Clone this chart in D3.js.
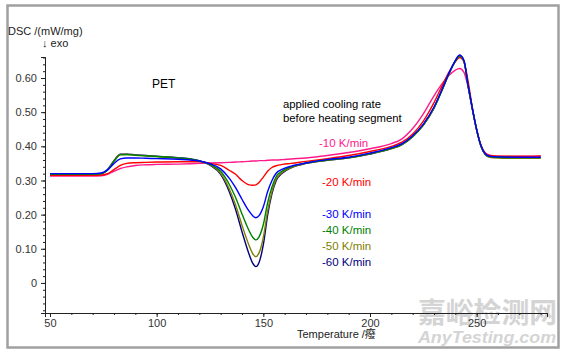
<!DOCTYPE html>
<html><head><meta charset="utf-8">
<script src="https://cdn.jsdelivr.net/npm/d3@7"></script>
<style>
html,body{margin:0;padding:0;background:#fff;}
svg{display:block;}
text{font-family:"Liberation Sans",Arial,"Noto Sans CJK SC",sans-serif;}
</style></head>
<body>
<svg id="chart" width="569" height="358"></svg>
<script>
// ---- data ----
const temperature = [50,60,70,74,77,80,83,86,90,95,100,110,120,125,130,134,137,140,143,145,146.5,148,150,152,154,156,159,163,170,180,190,200,210,215,220,225,230,234,237,240,242,244,246,248,250,252,254,256,260,270,280];
const rate10 = [0.313,0.313,0.313,0.314,0.318,0.327,0.335,0.340,0.344,0.346,0.347,0.348,0.350,0.351,0.352,0.353,0.354,0.355,0.356,0.357,0.357,0.358,0.358,0.359,0.360,0.360,0.361,0.363,0.366,0.373,0.382,0.393,0.408,0.422,0.452,0.495,0.548,0.585,0.607,0.623,0.628,0.617,0.573,0.508,0.447,0.404,0.381,0.374,0.371,0.370,0.371];
const rate20 = [0.315,0.315,0.315,0.316,0.320,0.332,0.344,0.350,0.352,0.353,0.354,0.355,0.355,0.350,0.344,0.330,0.318,0.300,0.288,0.286,0.287,0.294,0.310,0.327,0.338,0.343,0.347,0.350,0.356,0.364,0.373,0.385,0.400,0.412,0.436,0.474,0.528,0.580,0.617,0.648,0.660,0.648,0.590,0.512,0.448,0.403,0.379,0.373,0.371,0.371,0.372];
const rate30 = [0.320,0.320,0.320,0.322,0.331,0.350,0.363,0.366,0.366,0.365,0.364,0.362,0.357,0.349,0.334,0.307,0.279,0.245,0.213,0.197,0.191,0.197,0.223,0.267,0.299,0.321,0.333,0.342,0.351,0.361,0.368,0.380,0.396,0.408,0.431,0.465,0.515,0.570,0.614,0.651,0.667,0.652,0.578,0.510,0.449,0.402,0.378,0.371,0.369,0.368,0.368];
const rate40 = [0.318,0.318,0.318,0.320,0.331,0.356,0.375,0.376,0.374,0.372,0.370,0.366,0.357,0.347,0.327,0.289,0.250,0.202,0.157,0.134,0.126,0.135,0.171,0.234,0.280,0.311,0.328,0.340,0.351,0.360,0.367,0.379,0.394,0.406,0.429,0.463,0.513,0.568,0.612,0.649,0.664,0.650,0.577,0.510,0.449,0.401,0.377,0.370,0.368,0.367,0.367];
const rate50 = [0.318,0.318,0.318,0.320,0.331,0.357,0.376,0.376,0.374,0.372,0.370,0.366,0.357,0.346,0.321,0.276,0.228,0.169,0.115,0.086,0.077,0.088,0.133,0.210,0.266,0.304,0.324,0.338,0.350,0.359,0.366,0.378,0.393,0.405,0.428,0.462,0.512,0.568,0.612,0.650,0.665,0.650,0.576,0.509,0.448,0.400,0.376,0.368,0.366,0.365,0.365];
const rate60 = [0.318,0.318,0.318,0.320,0.332,0.358,0.377,0.377,0.375,0.373,0.371,0.367,0.358,0.345,0.318,0.268,0.215,0.150,0.090,0.058,0.048,0.060,0.112,0.198,0.260,0.299,0.322,0.337,0.350,0.359,0.366,0.377,0.393,0.405,0.428,0.462,0.512,0.568,0.613,0.651,0.667,0.651,0.577,0.510,0.449,0.401,0.377,0.370,0.368,0.367,0.367];
const seriesNames = ["-10 K/min","-20 K/min","-30 K/min","-40 K/min","-50 K/min","-60 K/min"];
const seriesColors = ["#ff1a8c","#ff0000","#0000ff","#008000","#808000","#000080"];
const seriesValues = [rate10, rate20, rate30, rate40, rate50, rate60];
const yTickValues = [0,0.1,0.2,0.3,0.4,0.5,0.6];
const yTickLabels = ["0","0.10","0.20","0.30","0.40","0.50","0.60"];
const xTickValues = [50,100,150,200,250];

// ---- chart ----
const svg = d3.select("#chart");
const x = d3.scaleLinear().domain([47.66, 282.97]).range([45, 547]);
const y = d3.scaleLinear().domain([-0.088, 0.6615]).range([313, 57]);

// frame
svg.append("rect").attr("x",7.5).attr("y",5.5).attr("width",551).attr("height",342)
  .attr("fill","none").attr("stroke","#a0a0a0").attr("stroke-width",2.5);

// watermark
svg.append("text").attr("x",418).attr("y",323).attr("font-size",28)
  .attr("font-family","'Noto Sans CJK SC',sans-serif").attr("font-weight","bold")
  .attr("fill","#d4d4d4").attr("textLength",139).attr("lengthAdjust","spacingAndGlyphs")
  .text("嘉峪检测网");
svg.append("text").attr("x",418).attr("y",343).attr("font-size",16)
  .attr("font-family","'DejaVu Sans',sans-serif").attr("font-weight","bold").attr("font-style","italic")
  .attr("fill","#d4d4d4").attr("textLength",138).attr("lengthAdjust","spacingAndGlyphs")
  .text("AnyTesting.com");

// axes
const axisColor = "#222";
const yMinor = svg.append("g").attr("transform","translate(45,0)")
  .call(d3.axisLeft(y).tickValues(d3.range(-0.08,0.665,0.02)).tickSize(2).tickFormat(""));
const yMajor = svg.append("g").attr("transform","translate(45,0)")
  .call(d3.axisLeft(y).tickValues(yTickValues).tickSize(4).tickPadding(4)
    .tickFormat((d,i)=>yTickLabels[i]));
const xMinor = svg.append("g").attr("transform","translate(0,313)")
  .call(d3.axisBottom(x).tickValues(d3.range(50,281,10)).tickSize(2).tickFormat(""));
const xMajor = svg.append("g").attr("transform","translate(0,313)")
  .call(d3.axisBottom(x).tickValues(xTickValues).tickSize(4).tickPadding(2).tickFormat(d3.format("d")));
svg.selectAll(".domain").attr("stroke",axisColor).attr("stroke-width",1);
svg.selectAll(".tick line").attr("stroke",axisColor);
svg.selectAll(".tick text").attr("fill","#333").attr("font-size",11)
  .attr("font-family","'Liberation Sans',Arial,sans-serif");

// curves
const line = d3.line().x((d,i)=>x(temperature[i])).y(d=>y(d)).curve(d3.curveMonotoneX);
const drawOrder = [0,1,5,4,3,2];
drawOrder.forEach(k=>{
  svg.append("path").datum(seriesValues[k]).attr("d",line)
    .attr("fill","none").attr("stroke",seriesColors[k]).attr("stroke-width",1.4)
    .attr("stroke-linejoin","round");
});

// labels
svg.append("text").attr("x",8).attr("y",35).attr("font-size",11).attr("fill","#222").text("DSC /(mW/mg)");
svg.append("text").attr("x",42).attr("y",47).attr("font-size",11).attr("fill","#222").text("↓ exo");
svg.append("text").attr("x",297).attr("y",338).attr("font-size",11).attr("fill","#222").text("Temperature /癈");
svg.append("text").attr("x",152).attr("y",88).attr("font-size",12).attr("fill","#000").text("PET");
svg.append("text").attr("x",283).attr("y",108).attr("font-size",11.3).attr("fill","#000").text("applied cooling rate");
svg.append("text").attr("x",283).attr("y",122).attr("font-size",11.3).attr("fill","#000").text("before heating segment");
const legendX = [319,322,322,322,322,322];
const legendY = [147,186,218,234,250,266];
seriesNames.forEach((n,i)=>{
  svg.append("text").attr("x",legendX[i]).attr("y",legendY[i]).attr("font-size",11.5)
    .attr("fill",seriesColors[i]).text(n);
});
</script>
</body></html>
